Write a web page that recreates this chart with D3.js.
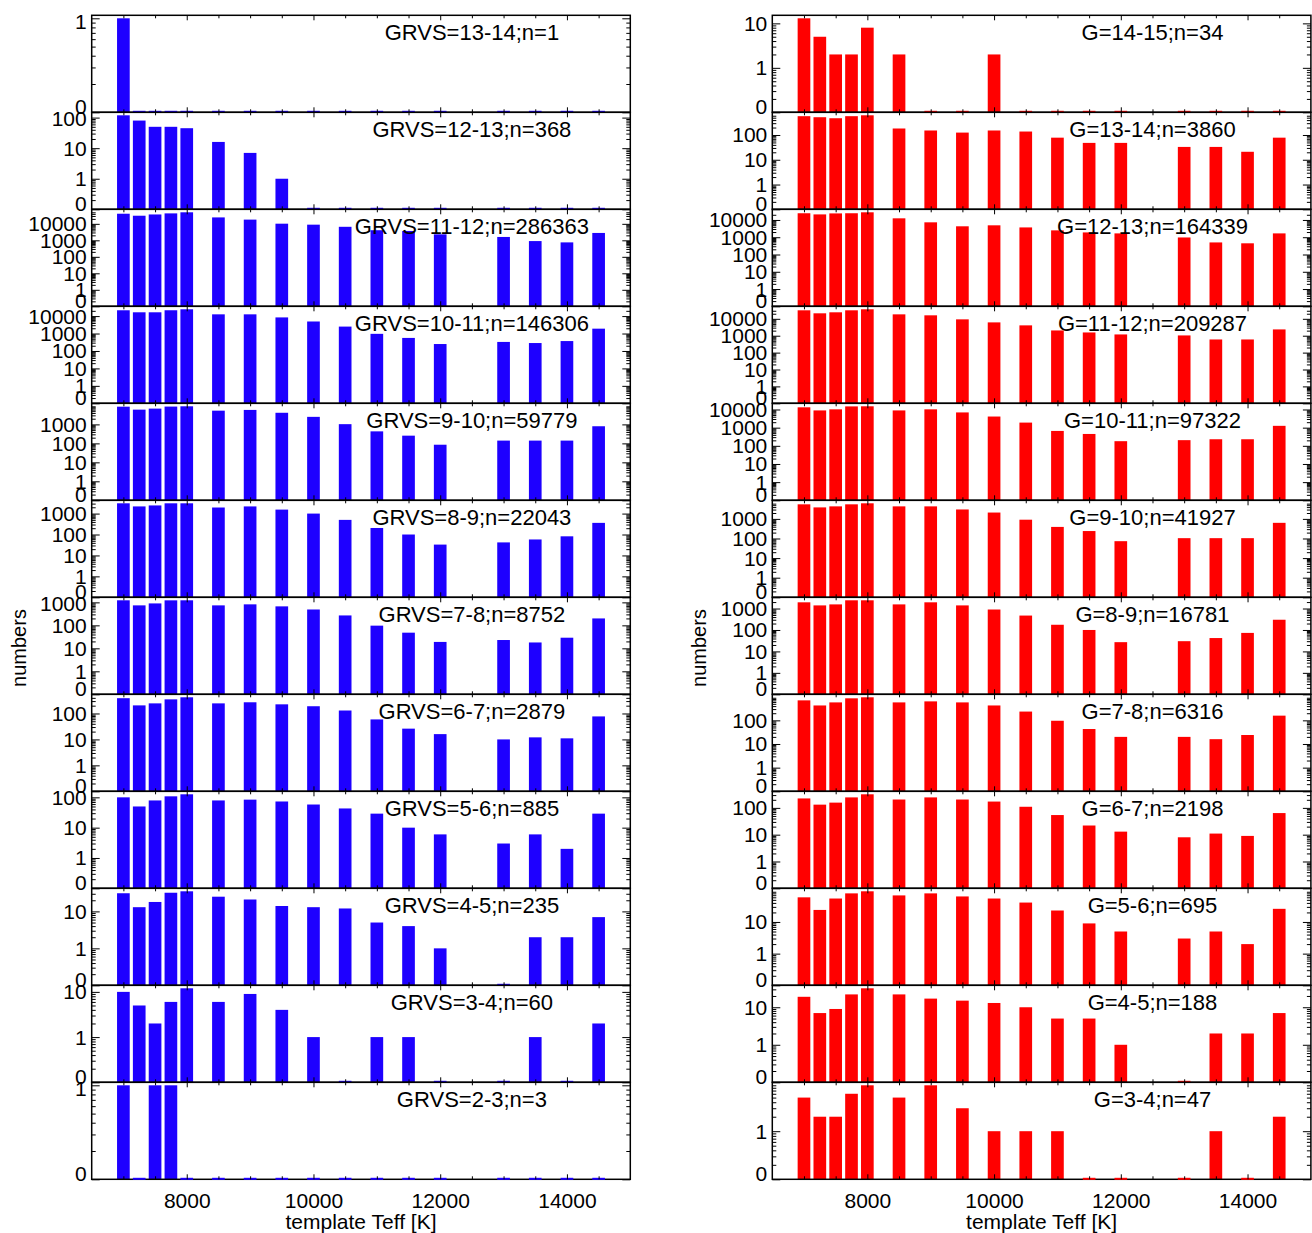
<!DOCTYPE html>
<html><head><meta charset="utf-8">
<script src="https://cdn.jsdelivr.net/npm/d3@7"></script>
<style>body{margin:0;background:#fff}svg{display:block}</style>
</head><body>
<svg id="chart" width="1312" height="1233"></svg>
<script>
// ---------- data ----------
const teff = [7000,7250,7500,7750,8000,8500,9000,9500,10000,10500,11000,11500,12000,13000,13500,14000,14500];

const grvsLabels = ["GRVS=13-14;n=1","GRVS=12-13;n=368","GRVS=11-12;n=286363","GRVS=10-11;n=146306",
  "GRVS=9-10;n=59779","GRVS=8-9;n=22043","GRVS=7-8;n=8752","GRVS=6-7;n=2879","GRVS=5-6;n=885",
  "GRVS=4-5;n=235","GRVS=3-4;n=60","GRVS=2-3;n=3"];
const grvsCounts = [
  [1,0,0,0,0,0,0,0,0,0,0,0,0,0,0,0,0],
  [119,80,50,50,45,16,7,1,0,0,0,0,0,0,0,0,0],
  [41000,31000,37000,43000,50000,24500,18000,10200,8900,6600,4100,3700,2300,1600,900,750,2800],
  [21550,16500,16500,21600,24500,12600,12600,8400,4900,2500,960,560,250,330,285,370,1900],
  [8600,6000,6800,8700,9000,5300,5800,4100,2500,1030,430,255,85,140,140,140,800],
  [3100,2200,2450,3100,3100,1950,2200,1550,1000,500,205,100,33,42,58,82,360],
  [1230,740,900,1225,1230,740,820,670,490,270,97,48,19,23,18,29,200],
  [388,205,245,350,420,245,270,225,190,130,59,26,16,10,12,11,77],
  [100,50,79,108,126,79,84,73,58,43,29,10,6,3,6,2,29],
  [31,13,18,32,35,25,21,14,13,12,5,4,1,0,2,2,7],
  [10,5,2,6,12,6,9,4,1,0,1,1,0,0,1,0,2],
  [1,0,1,1,0,0,0,0,0,0,0,0,0,0,0,0,0]
];

const gLabels = ["G=14-15;n=34","G=13-14;n=3860","G=12-13;n=164339","G=11-12;n=209287","G=10-11;n=97322",
  "G=9-10;n=41927","G=8-9;n=16781","G=7-8;n=6316","G=6-7;n=2198","G=5-6;n=695","G=4-5;n=188","G=3-4;n=47"];
const gCounts = [
  [13,5,2,2,8,2,0,0,2,0,0,0,0,0,0,0,0],
  [575,522,475,575,624,183,152,125,152,138,78,48,48,33,33,21,78],
  [24500,21000,24000,24500,27800,12450,7300,4300,4900,3700,2500,1900,1670,970,500,445,1670],
  [31900,21200,24300,31900,36600,18400,16100,9300,6150,4100,2050,1560,1190,1040,600,600,2360],
  [13200,8900,10200,14800,15000,8900,10200,6900,4100,1900,660,450,180,205,230,230,1260],
  [5540,3860,4360,5540,6250,4360,4360,3030,2110,910,390,240,73,104,104,104,630],
  [1950,1400,1560,2420,2420,1560,1950,1400,900,470,175,100,27,30,42,73,300],
  [700,426,574,854,943,574,634,574,426,235,96,43,20,20,16,24,158],
  [225,132,157,246,321,205,246,205,172,110,54,22,13,8,11,9,64],
  [60,24,55,80,93,69,80,64,55,41,23,9,5,3,5,2,26],
  [19,7,9,22,32,22,17,15,13,10,5,5,1,0,2,2,7],
  [5,2,2,6,9,5,9,3,1,1,1,0,0,0,1,0,2]
];

const xDomain = [6500, 15000];
const xMajorTicks = [8000, 10000, 12000, 14000];
const xMinorTicks = d3.range(7000, 15000, 500).filter(v => !xMajorTicks.includes(v));
const yMin = 0.1;            // drawn as "0"
const zeroLabel = "0";
const xTitle = "template Teff [K]";
const yTitle = "numbers";
const labelTeff = 12500;     // panel label anchor (data units)
const barHalfWidth = 100;    // K

// ---------- layout ----------
const svg = d3.select("#chart");
const FONT = "'Liberation Sans', Arial, Helvetica, sans-serif";
const top0 = 15.3, ph = 97, nP = 12;
const cols = [
  {x0: 91.7, x1: 630.3, labels: grvsLabels, counts: grvsCounts, color: "#1e00ff", ytx: 26},
  {x0: 772.3, x1: 1310.9, labels: gLabels, counts: gCounts, color: "#ff0000", ytx: 706}
];

function logTicks(max) {
  const major = [yMin], minor = [];
  for (let d = 0.1; d <= max * 1.0001; d *= 10) {
    const dd = +d.toPrecision(3);
    if (dd >= 1 && dd <= max * 1.0001) major.push(dd);
    for (let k = 2; k <= 9; k++) {
      const v = +(k * dd).toPrecision(3);
      if (v <= max * 1.0001) minor.push(v);
    }
  }
  return {major, minor};
}

cols.forEach(col => {
  const x = d3.scaleLinear().domain(xDomain).range([col.x0, col.x1]);
  const bw = x(teff[0] + barHalfWidth) - x(teff[0] - barHalfWidth);

  for (let i = 0; i < nP; i++) {
    const T = top0 + i * ph, B = T + ph;
    const counts = col.counts[i];
    const maxV = Math.max(1, d3.max(counts));
    const y = d3.scaleLog().domain([yMin, maxV]).range([B, T + 3]);
    const g = svg.append("g");

    // bars (positive)
    g.selectAll("rect.bar").data(teff.map((t, j) => ({t, v: counts[j]})).filter(d => d.v > 0))
      .join("rect").attr("class", "bar")
      .attr("x", d => x(d.t - barHalfWidth)).attr("width", bw)
      .attr("y", d => y(d.v)).attr("height", d => B - y(d.v))
      .attr("fill", col.color);

    // frame
    g.append("rect").attr("x", col.x0).attr("y", T).attr("width", col.x1 - col.x0).attr("height", ph)
      .attr("fill", "none").attr("stroke", "#000").attr("stroke-width", 1.5);

    // zero-count marks
    g.selectAll("rect.zero").data(teff.map((t, j) => ({t, v: counts[j]})).filter(d => d.v === 0))
      .join("rect").attr("class", "zero")
      .attr("x", d => x(d.t - barHalfWidth)).attr("width", bw)
      .attr("y", B - 1.5).attr("height", 2)
      .attr("fill", col.color);

    const {major, minor} = logTicks(maxV);

    // y axes (left with labels, right without)
    const yl = g.append("g").attr("transform", `translate(${col.x0},0)`)
      .call(d3.axisLeft(y).tickValues(major).tickSize(-8).tickSizeOuter(0).tickPadding(5)
        .tickFormat(v => v === yMin ? zeroLabel : d3.format("d")(v)));
    yl.select(".domain").remove();
    yl.selectAll("text").attr("font-family", FONT).attr("font-size", 21).attr("fill", "#000")
      .attr("dy", null)
      .attr("y", v => {
        const p = y(v);
        const c = Math.min(Math.max(p - 0.5, T + 6), B - 6);
        return c - p + 7.5;
      });
    g.append("g").attr("transform", `translate(${col.x0},0)`)
      .call(d3.axisLeft(y).tickValues(minor).tickSize(-4).tickSizeOuter(0).tickFormat(""))
      .select(".domain").remove();
    g.append("g").attr("transform", `translate(${col.x1},0)`)
      .call(d3.axisRight(y).tickValues(major).tickSize(-8).tickSizeOuter(0).tickFormat(""))
      .select(".domain").remove();
    g.append("g").attr("transform", `translate(${col.x1},0)`)
      .call(d3.axisRight(y).tickValues(minor).tickSize(-4).tickSizeOuter(0).tickFormat(""))
      .select(".domain").remove();

    // x axes (ticks top & bottom, labels on last panel)
    const last = i === nP - 1;
    const xb = g.append("g").attr("transform", `translate(0,${B})`)
      .call(d3.axisBottom(x).tickValues(xMajorTicks).tickSize(-5).tickSizeOuter(0).tickPadding(14)
        .tickFormat(last ? d3.format("d") : ""));
    xb.select(".domain").remove();
    xb.selectAll("text").attr("font-family", FONT).attr("font-size", 21).attr("fill", "#000")
      .attr("dy", null).attr("y", 29);
    g.append("g").attr("transform", `translate(0,${B})`)
      .call(d3.axisBottom(x).tickValues(xMinorTicks).tickSize(-3).tickSizeOuter(0).tickFormat(""))
      .select(".domain").remove();
    g.append("g").attr("transform", `translate(0,${T})`)
      .call(d3.axisTop(x).tickValues(xMajorTicks).tickSize(-5).tickSizeOuter(0).tickFormat(""))
      .select(".domain").remove();
    g.append("g").attr("transform", `translate(0,${T})`)
      .call(d3.axisTop(x).tickValues(xMinorTicks).tickSize(-3).tickSizeOuter(0).tickFormat(""))
      .select(".domain").remove();

    // panel label
    g.append("text").attr("x", x(labelTeff)).attr("y", T + 25)
      .attr("text-anchor", "middle").attr("font-family", FONT).attr("font-size", 22)
      .attr("fill", "#000").text(col.labels[i]);
  }

  // axis titles
  svg.append("text").attr("x", (col.x0 + col.x1) / 2).attr("y", 1229)
    .attr("text-anchor", "middle").attr("font-family", FONT).attr("font-size", 21)
    .attr("fill", "#000").text(xTitle);
  svg.append("text").attr("transform", `translate(${col.ytx},648) rotate(-90)`)
    .attr("text-anchor", "middle").attr("font-family", FONT).attr("font-size", 20)
    .attr("fill", "#000").text(yTitle);
});
</script>
</body></html>
